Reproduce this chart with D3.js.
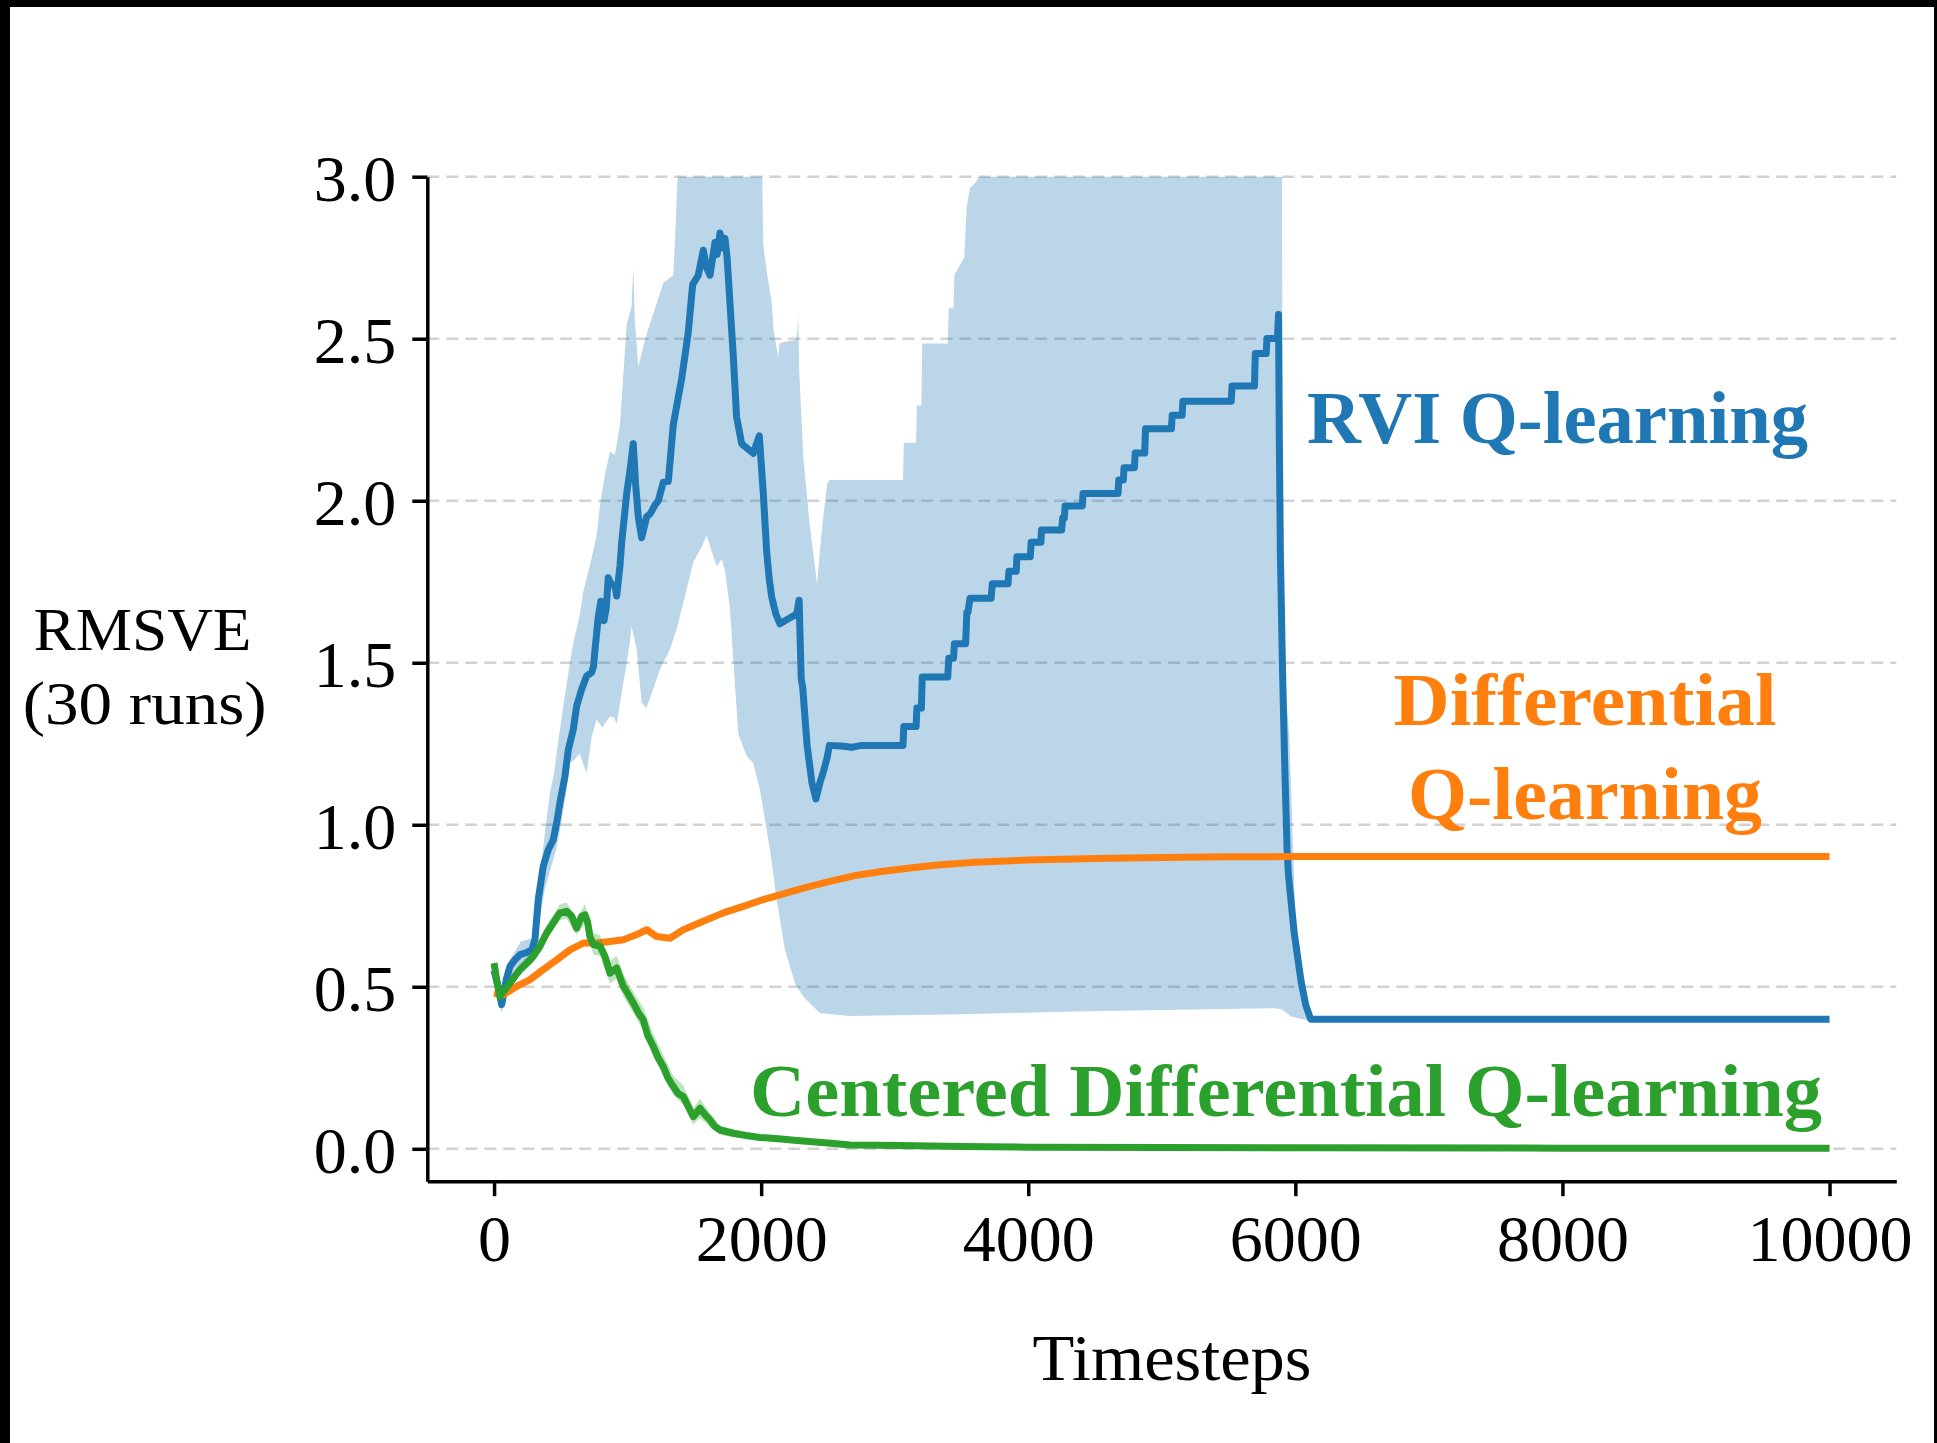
<!DOCTYPE html>
<html>
<head>
<meta charset="utf-8">
<script src="https://cdn.jsdelivr.net/npm/d3@7"></script>
<style>
  html, body { margin: 0; padding: 0; background: #000; }
  svg { display: block; }
</style>
</head>
<body>
<div id="chart"></div>
<script>
// ---------------- DATA ----------------
const xTicks = [0, 2000, 4000, 6000, 8000, 10000];
const yTicks = [0.0, 0.5, 1.0, 1.5, 2.0, 2.5, 3.0];

const seriesNames = ["RVI Q-learning", "Differential Q-learning", "Centered Differential Q-learning"];
const seriesColors = ["#1f77b4", "#ff7f0e", "#2ca02c"];

// RVI Q-learning mean (timestep, RMSVE)
const rviMean = [
  [0,0.55],[30,0.50],[57,0.445],[90,0.52],[119,0.563],[160,0.585],[194,0.599],[240,0.605],[281,0.613],
  [306,0.645],[331,0.769],[368,0.872],[406,0.923],[443,0.954],[469,1.006],[493,1.068],[531,1.15],
  [556,1.232],[593,1.294],[618,1.366],[656,1.418],[693,1.459],[731,1.47],[745,1.49],[756,1.541],
  [781,1.644],[800,1.69],[823,1.63],[840,1.67],[855,1.762],[880,1.74],[905,1.74],[918,1.706],
  [943,1.80],[955,1.868],[993,2.022],[1020,2.10],[1042,2.176],[1060,2.05],[1080,1.95],[1105,1.886],
  [1125,1.92],[1143,1.951],[1170,1.96],[1205,1.987],[1230,2.00],[1267,2.057],[1305,2.06],[1342,2.235],
  [1405,2.377],[1454,2.519],[1487,2.667],[1529,2.696],[1567,2.773],[1590,2.72],[1617,2.696],[1654,2.797],
  [1670,2.76],[1692,2.826],[1710,2.78],[1729,2.81],[1745,2.75],[1766,2.613],[1791,2.448],[1816,2.259],
  [1854,2.176],[1900,2.16],[1941,2.146],[1986,2.20],[2016,2.022],[2041,1.845],[2060,1.76],[2079,1.703],
  [2110,1.65],[2141,1.62],[2200,1.635],[2266,1.65],[2284,1.693],[2300,1.45],[2311,1.424],[2344,1.245],
  [2380,1.13],[2410,1.08],[2440,1.13],[2461,1.156],[2494,1.207],[2511,1.245],[2600,1.243],[2678,1.239],
  [2750,1.245],[3062,1.245],[3068,1.303],[3160,1.303],[3166,1.36],[3200,1.36],[3206,1.456],[3397,1.456],
  [3405,1.514],[3440,1.514],[3447,1.559],[3531,1.559],[3540,1.655],[3548,1.655],[3564,1.699],[3722,1.699],
  [3731,1.744],[3848,1.744],[3855,1.782],[3910,1.782],[3915,1.827],[4015,1.827],[4022,1.872],[4095,1.872],
  [4099,1.910],[4250,1.910],[4258,1.947],[4270,1.947],[4276,1.984],[4405,1.984],[4410,2.022],[4672,2.022],
  [4678,2.064],[4712,2.064],[4717,2.102],[4795,2.102],[4801,2.147],[4872,2.147],[4878,2.222],[5072,2.222],
  [5078,2.264],[5152,2.264],[5158,2.307],[5520,2.307],[5526,2.354],[5694,2.354],[5700,2.454],[5782,2.454],
  [5787,2.501],[5866,2.501],[5874,2.575],[5880,2.19],[5888,1.833],[5904,1.476],[5920,1.194],[5938,0.924],
  [5949,0.842],[5991,0.668],[6044,0.514],[6079,0.442],[6115,0.40],[10000,0.40]
];

// RVI Q-learning shaded band: upper and lower edges
const rviUpper = [
  [0,0.58],[60,0.47],[100,0.57],[200,0.64],[281,0.65],[320,0.74],[370,0.94],[419,1.10],[450,1.16],
  [481,1.26],[520,1.37],[568,1.50],[593,1.56],[643,1.65],[668,1.72],[681,1.74],[718,1.80],[768,1.892],
  [793,1.987],[830,2.08],[868,2.152],[905,2.14],[943,2.235],[993,2.543],[1030,2.60],[1042,2.72],[1055,2.55],
  [1080,2.413],[1120,2.48],[1155,2.531],[1230,2.625],[1267,2.672],[1342,2.696],[1360,2.85],[1367,2.933],
  [1380,3.05],[1390,3.3],[2004,3.3],[2010,2.95],[2016,2.791],[2043,2.703],[2079,2.613],[2094,2.524],
  [2128,2.442],[2137,2.485],[2166,2.489],[2261,2.496],[2270,2.52],[2277,2.575],[2285,2.40],[2294,2.32],
  [2317,2.128],[2361,1.936],[2418,1.744],[2461,1.936],[2494,2.051],[2511,2.064],[3062,2.064],[3068,2.179],
  [3160,2.179],[3166,2.294],[3200,2.294],[3206,2.485],[3397,2.485],[3405,2.594],[3440,2.594],[3447,2.697],
  [3520,2.75],[3540,2.908],[3564,2.965],[3600,2.98],[3722,3.05],[3730,3.3],[5900,3.3],[5904,1.95],
  [5930,1.40],[5954,1.28],[5970,1.09],[6000,0.72],[6040,0.55],[6080,0.45],[6115,0.41],[10000,0.40]
];
const rviLower = [
  [0,0.53],[57,0.42],[100,0.50],[200,0.57],[281,0.59],[330,0.68],[380,0.80],[420,0.86],[470,0.93],
  [500,1.00],[540,1.10],[568,1.191],[600,1.20],[640,1.22],[693,1.16],[730,1.27],[768,1.325],[810,1.30],
  [868,1.335],[900,1.33],[918,1.31],[960,1.42],[993,1.50],[1015,1.56],[1030,1.613],[1068,1.541],
  [1105,1.377],[1140,1.36],[1167,1.39],[1242,1.48],[1317,1.541],[1367,1.603],[1442,1.727],[1492,1.81],
  [1554,1.857],[1592,1.892],[1629,1.845],[1667,1.798],[1704,1.82],[1729,1.786],[1766,1.668],[1804,1.431],
  [1829,1.28],[1891,1.212],[1941,1.19],[1991,1.109],[2066,0.923],[2116,0.769],[2178,0.614],[2253,0.511],
  [2315,0.47],[2390,0.439],[2440,0.419],[2660,0.41],[3500,0.415],[4331,0.424],[5000,0.428],[5850,0.434],
  [5902,0.43],[5969,0.408],[6050,0.40],[6115,0.395],[10000,0.40]
];

// Differential Q-learning mean
const diffMean = [
  [0,0.48],[69,0.475],[169,0.501],[269,0.522],[368,0.553],[469,0.583],[568,0.614],[668,0.635],
  [768,0.635],[868,0.64],[968,0.645],[1068,0.661],[1143,0.676],[1218,0.655],[1317,0.65],[1417,0.676],
  [1567,0.702],[1716,0.728],[1866,0.748],[2016,0.769],[2191,0.79],[2365,0.81],[2515,0.825],[2700,0.843],
  [2900,0.856],[3100,0.866],[3300,0.875],[3600,0.884],[4000,0.891],[4500,0.896],[5000,0.899],
  [5500,0.901],[6000,0.902],[10000,0.902]
];

// Centered Differential Q-learning mean
const centMean = [
  [0,0.573],[20,0.52],[44,0.47],[80,0.49],[119,0.511],[160,0.535],[194,0.553],[250,0.575],[294,0.594],
  [344,0.625],[394,0.666],[443,0.697],[493,0.728],[543,0.733],[581,0.718],[618,0.681],[656,0.718],
  [681,0.722],[700,0.70],[718,0.655],[743,0.63],[793,0.625],[830,0.594],[868,0.542],[918,0.558],
  [968,0.501],[1000,0.48],[1042,0.45],[1080,0.42],[1117,0.398],[1150,0.35],[1192,0.316],[1230,0.28],
  [1267,0.254],[1300,0.22],[1342,0.192],[1380,0.17],[1417,0.161],[1455,0.13],[1492,0.099],[1542,0.125],
  [1580,0.105],[1617,0.089],[1650,0.07],[1692,0.058],[1791,0.048],[1900,0.04],[1991,0.035],[2150,0.03],
  [2291,0.025],[2500,0.018],[2665,0.012],[3038,0.01],[3500,0.007],[4000,0.005],[5000,0.004],
  [6000,0.003],[8000,0.002],[10000,0.002]
];
// Centered Differential Q-learning band: [timestep, low, high]
const centBand = [
  [0,0.56,0.585],[44,0.455,0.485],[119,0.495,0.525],[194,0.535,0.57],[294,0.575,0.615],[394,0.645,0.69],
  [493,0.705,0.755],[543,0.71,0.76],[618,0.66,0.71],[681,0.695,0.755],[743,0.60,0.665],[793,0.595,0.66],
  [868,0.51,0.58],[918,0.525,0.595],[968,0.47,0.54],[1042,0.42,0.485],[1117,0.365,0.435],
  [1192,0.285,0.355],[1267,0.225,0.29],[1342,0.165,0.225],[1417,0.135,0.195],[1492,0.075,0.125],
  [1542,0.095,0.155],[1617,0.068,0.11],[1692,0.043,0.073],[1791,0.036,0.06],[1991,0.027,0.043],
  [2291,0.019,0.031],[2665,0.008,0.016],[3038,0.007,0.013],[4000,0.003,0.007],[10000,0.001,0.003]
];

// ---------------- DRAW ----------------
const W = 1937, H = 1443;
const FONT = "'Liberation Serif', 'DejaVu Serif', serif";
const LW = 7;

const svg = d3.select("#chart").append("svg")
  .attr("width", W).attr("height", H);

svg.append("rect").attr("x", 0).attr("y", 0).attr("width", W).attr("height", H).attr("fill", "#000");
svg.append("rect").attr("x", 10).attr("y", 7).attr("width", 1924).attr("height", H - 7).attr("fill", "#fff");

const x = d3.scaleLinear().domain([-500, 10500]).range([427.3, 1896.3]);
const y = d3.scaleLinear().domain([-0.1, 3.0]).range([1181.2, 176.7]);

// clip
svg.append("clipPath").attr("id", "plotclip")
  .append("rect")
  .attr("x", x(-500)).attr("y", y(3.0))
  .attr("width", x(10500) - x(-500)).attr("height", y(-0.1) - y(3.0));

// grid
svg.append("g").selectAll("line").data(yTicks).join("line")
  .attr("x1", x(-500)).attr("x2", x(10500))
  .attr("y1", d => y(d)).attr("y2", d => y(d))
  .attr("stroke", "#d2d2d2").attr("stroke-width", 2.5)
  .attr("stroke-dasharray", "12,7");

const plot = svg.append("g").attr("clip-path", "url(#plotclip)");

const line = d3.line().x(d => x(d[0])).y(d => y(d[1]));

// RVI band (polygon from upper edge and reversed lower edge)
plot.append("path")
  .attr("d", line(rviUpper.concat(rviLower.slice().reverse())) + "Z")
  .attr("fill", seriesColors[0]).attr("fill-opacity", 0.3).attr("stroke", "none");
plot.append("path")
  .attr("d", line(rviMean))
  .attr("fill", "none").attr("stroke", seriesColors[0]).attr("stroke-width", LW)
  .attr("stroke-linejoin", "round").attr("stroke-linecap", "butt");

// Differential
plot.append("path")
  .attr("d", line(diffMean))
  .attr("fill", "none").attr("stroke", seriesColors[1]).attr("stroke-width", LW)
  .attr("stroke-linejoin", "round").attr("stroke-linecap", "butt");

// Centered band + line
const area = d3.area().x(d => x(d[0])).y0(d => y(d[1])).y1(d => y(d[2]));
plot.append("path")
  .attr("d", area(centBand))
  .attr("fill", seriesColors[2]).attr("fill-opacity", 0.3).attr("stroke", "none");
plot.append("path")
  .attr("d", line(centMean))
  .attr("fill", "none").attr("stroke", seriesColors[2]).attr("stroke-width", LW)
  .attr("stroke-linejoin", "round").attr("stroke-linecap", "butt");

// axes
const yAxis = svg.append("g")
  .attr("transform", `translate(${x(-500)},0)`)
  .call(d3.axisLeft(y).tickValues(yTicks).tickFormat(d3.format(".1f")).tickSize(15).tickSizeOuter(0).tickPadding(16));
yAxis.selectAll("text").attr("font-family", FONT).attr("font-size", 66).attr("fill", "#000").attr("dy", "0.36em");

const xAxis = svg.append("g")
  .attr("transform", `translate(0,${y(-0.1)})`)
  .call(d3.axisBottom(x).tickValues(xTicks).tickFormat(d3.format("d")).tickSize(15).tickSizeOuter(0));
xAxis.selectAll("text").attr("font-family", FONT).attr("font-size", 66).attr("fill", "#000")
  .attr("y", 80).attr("dy", "0");

svg.selectAll(".domain").attr("stroke", "#000").attr("stroke-width", 3.5);
svg.selectAll(".tick line").attr("stroke", "#000").attr("stroke-width", 3.5);

// axis labels
svg.append("text").attr("x", 142.5).attr("y", 650).attr("text-anchor", "middle")
  .attr("font-family", FONT).attr("font-size", 62).attr("textLength", 218).attr("lengthAdjust", "spacingAndGlyphs")
  .text("RMSVE");
svg.append("text").attr("x", 144.7).attr("y", 724).attr("text-anchor", "middle")
  .attr("font-family", FONT).attr("font-size", 62).attr("textLength", 244).attr("lengthAdjust", "spacingAndGlyphs")
  .text("(30 runs)");
svg.append("text").attr("x", 1172).attr("y", 1380).attr("text-anchor", "middle")
  .attr("font-family", FONT).attr("font-size", 65).attr("textLength", 279).attr("lengthAdjust", "spacingAndGlyphs")
  .text("Timesteps");

// series annotations
function note(txt, cx, by, len, color, anchor) {
  svg.append("text").attr("x", cx).attr("y", by).attr("text-anchor", anchor)
    .attr("font-family", FONT).attr("font-weight", "bold").attr("font-size", 73)
    .attr("fill", color).attr("textLength", len).attr("lengthAdjust", "spacingAndGlyphs")
    .text(txt);
}
note("RVI Q-learning", 1307, 443, 501, seriesColors[0], "start");
note("Differential", 1585, 725, 383, seriesColors[1], "middle");
note("Q-learning", 1585, 819, 354, seriesColors[1], "middle");
note("Centered Differential Q-learning", 750, 1116, 1072, seriesColors[2], "start");
</script>
</body>
</html>
